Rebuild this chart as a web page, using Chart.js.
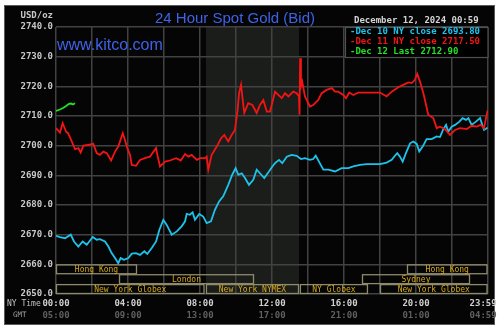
<!DOCTYPE html>
<html><head><meta charset="utf-8">
<script src="https://cdn.jsdelivr.net/npm/chart.js@4/dist/chart.umd.min.js"></script>
<style>html,body{margin:0;padding:0;background:#fff;}canvas{display:block}</style>
</head><body>
<canvas id="c" width="500" height="329"></canvas>
<script>
// ---- data (hours since 00:00 NY time, USD/oz) ----
const redHours = [0,0.22,0.37,0.56,0.67,0.82,1.06,1.24,1.37,1.52,1.79,2.07,2.26,2.44,2.63,2.82,3.06,3.28,3.46,3.71,3.83,3.96,4.11,4.21,4.44,4.67,4.94,5.22,5.56,5.63,5.78,6.06,6.33,6.67,6.93,7.17,7.35,7.54,7.82,8.0,8.28,8.37,8.46,8.65,8.93,9.17,9.35,9.57,9.76,9.94,10.09,10.17,10.28,10.35,10.46,10.68,10.91,11.15,11.33,11.52,11.71,11.89,12.17,12.35,12.54,12.72,12.91,13.18,13.37,13.5,13.53,13.56,13.61,13.68,13.83,14.11,14.29,14.57,14.76,15.04,15.32,15.5,15.68,15.96,16.11,16.29,16.52,16.79,17.26,18.0,18.37,18.65,19.02,19.29,19.57,19.76,19.94,20.07,20.22,20.41,20.56,20.68,20.96,21.15,21.33,21.61,21.89,22.17,22.44,22.82,23.09,23.37,23.59,23.78,23.89,23.98];
const redValues = [2705.9,2704.4,2707.6,2704.7,2704.2,2702.2,2698.8,2699.2,2697.7,2700.0,2700.3,2700.6,2697.5,2696.9,2698.0,2697.5,2695.0,2698.0,2699.7,2704.2,2701.9,2699.2,2696.9,2693.5,2693.2,2695.2,2695.8,2696.3,2699.2,2696.9,2693.0,2694.6,2695.0,2695.8,2695.0,2697.2,2696.3,2696.9,2695.2,2695.8,2695.8,2696.3,2691.9,2696.9,2699.7,2702.5,2703.6,2701.4,2703.6,2705.3,2712.0,2717.7,2720.5,2716.6,2711.0,2714.3,2713.7,2711.0,2713.7,2715.4,2711.5,2711.5,2718.2,2717.1,2716.0,2717.7,2716.6,2718.2,2717.7,2716.6,2710.4,2729.5,2720.0,2721.6,2716.6,2713.2,2713.7,2715.4,2717.7,2718.8,2719.4,2718.2,2718.2,2717.1,2716.0,2717.9,2717.1,2717.9,2717.9,2717.9,2716.6,2718.2,2719.7,2720.5,2721.3,2721.1,2722.2,2724.2,2721.6,2717.7,2713.7,2710.4,2709.3,2705.9,2706.4,2705.6,2703.6,2705.3,2705.9,2705.6,2706.7,2706.4,2707.0,2705.9,2709.3,2711.9];

const cyanHours = [0,0.22,0.5,0.82,1.0,1.24,1.48,1.71,2.04,2.26,2.44,2.72,2.91,3.09,3.28,3.46,3.59,3.78,4.02,4.21,4.44,4.67,4.91,5.07,5.32,5.56,5.74,5.96,6.15,6.43,6.71,6.98,7.17,7.26,7.44,7.59,7.72,7.96,8.18,8.37,8.61,8.83,9.06,9.29,9.57,9.79,9.98,10.13,10.32,10.5,10.72,10.96,11.15,11.33,11.57,11.83,12.02,12.17,12.39,12.57,12.82,13.09,13.37,13.61,13.83,14.11,14.29,14.43,14.61,14.85,15.13,15.5,15.87,16.24,16.52,16.89,17.26,18.0,18.37,18.65,18.83,18.96,19.11,19.26,19.44,19.67,19.85,20.04,20.18,20.37,20.59,20.87,21.15,21.33,21.52,21.67,21.79,21.98,22.17,22.41,22.59,22.78,22.91,23.09,23.33,23.56,23.65,23.78,23.93,23.98];
const cyanValues = [2669.6,2669.2,2668.8,2670.0,2667.7,2666.0,2667.7,2666.6,2669.2,2668.3,2668.5,2667.7,2666.0,2663.8,2662.1,2660.4,2662.1,2661.5,2662.1,2663.6,2663.8,2663.2,2664.4,2663.5,2665.5,2667.7,2671.6,2675.0,2673.3,2670.0,2671.1,2672.8,2674.5,2677.0,2676.7,2677.5,2675.0,2677.0,2676.1,2673.9,2674.5,2678.4,2681.2,2682.9,2686.8,2690.2,2692.4,2690.2,2690.7,2689.1,2686.8,2688.5,2691.9,2690.7,2689.1,2691.3,2693.0,2694.1,2695.2,2694.1,2696.3,2696.9,2696.6,2695.5,2695.8,2695.2,2695.5,2696.6,2694.6,2691.9,2691.9,2691.3,2692.4,2692.4,2693.0,2693.5,2693.8,2693.8,2694.3,2695.2,2696.6,2697.5,2696.3,2694.6,2697.5,2700.8,2701.4,2700.6,2698.0,2699.7,2702.2,2702.2,2703.1,2702.9,2705.6,2707.0,2704.7,2706.4,2707.0,2708.1,2709.3,2708.7,2709.3,2707.0,2708.1,2709.3,2707.6,2705.3,2705.9,2705.9];

const greenHours = [0,0.22,0.39,0.56,0.72,0.83,0.94,1.06];
const greenValues = [2711.7,2712.2,2712.7,2713.4,2714.1,2714.2,2713.9,2714.3];

const seriesNames = ['-Dec 10 NY close 2693.80','-Dec 11 NY close 2717.50','-Dec 12 Last 2712.90'];

const nyTimeLabels = ['00:00','04:00','08:00','12:00','16:00','20:00','23:59'];
const gmtLabels    = ['05:00','09:00','13:00','17:00','21:00','01:00','04:59'];
const labelHours   = [0,4,8,12,16,20,23.983];

const sessionNames = ['Hong Kong','London','New York Globex','New York NYMEX','NY Globex','Sydney','New York Globex','Hong Kong'];
const sessionStart = [0,3.5,0,8.33,13.55,17,18,19.5];
const sessionEnd   = [4.5,11,8.25,13.5,17.33,23,24,24];
const sessionRow   = [0,1,2,2,2,1,2,0];

const nymexStart = 8.33, nymexEnd = 13.5;

const titleText = '24 Hour Spot Gold (Bid)';
const siteText = 'www.kitco.com';
const dateText = 'December 12, 2024 00:59';
const unitText = 'USD/oz';

const CYAN = '#1ec3ec', RED = '#f41414', GREEN = '#24e024';
const MONO = '"DejaVu Sans Mono", "Liberation Mono", monospace';

const pts = (h, v) => h.map((x, i) => ({x, y: v[i]}));

const decor = {
  id: 'decor',
  beforeDraw(chart) {
    const {ctx, chartArea: a, scales: {x}} = chart;
    ctx.save();
    ctx.fillStyle = '#ffffff'; ctx.fillRect(0, 0, 500, 329);
    ctx.fillStyle = '#050505'; ctx.fillRect(4, 5, 491, 320);
    ctx.strokeStyle = '#5a5a5a'; ctx.lineWidth = 1; ctx.strokeRect(4.5, 5.5, 490, 319);
    const x0 = x.getPixelForValue(nymexStart), x1 = x.getPixelForValue(nymexEnd);
    ctx.fillStyle = '#1b1d1b';
    ctx.fillRect(x0, a.top, x1 - x0, a.bottom - a.top);
    ctx.restore();
  },
  afterDatasetsDraw(chart) {
    const {ctx, chartArea: a, scales: {x, y}} = chart;
    ctx.save();
    // session bars
    ctx.font = '8px ' + MONO;
    ctx.textAlign = 'center'; ctx.textBaseline = 'middle';
    for (let i = 0; i < sessionNames.length; i++) {
      const r = sessionRow[i];
      const top = y.getPixelForValue(2660 - r * 10 / 3);
      const bot = y.getPixelForValue(2660 - (r + 1) * 10 / 3);
      const xs = x.getPixelForValue(sessionStart[i]);
      const xe = Math.min(x.getPixelForValue(sessionEnd[i]), a.right - 0.5);
      ctx.strokeStyle = '#8e8a6c'; ctx.lineWidth = 1.3;
      ctx.strokeRect(xs + 0.5, top + 0.5, xe - xs - 1, bot - top - 1);
      ctx.fillStyle = '#d6a91c';
      ctx.fillText(sessionNames[i], (xs + xe) / 2, (top + bot) / 2 + 0.5);
    }
    // legend box
    ctx.fillStyle = '#000';
    ctx.fillRect(345, a.top, a.right - 345, 30);
    ctx.strokeStyle = '#505050'; ctx.lineWidth = 1.2;
    ctx.strokeRect(345.5, a.top + 0.5, a.right - 345.5, 30);
    ctx.font = 'bold 9px ' + MONO;
    ctx.textAlign = 'left'; ctx.textBaseline = 'middle';
    const cols = [CYAN, RED, GREEN];
    for (let i = 0; i < 3; i++) {
      ctx.fillStyle = cols[i];
      ctx.fillText(seriesNames[i], 350, a.top + 5 + i * 10);
    }
    // header texts
    ctx.fillStyle = '#d4d4d4';
    ctx.fillText(dateText, 354, 21);
    ctx.textAlign = 'right';
    ctx.fillStyle = '#c8c8c8';
    ctx.fillText(unitText, 53, 15.5);
    ctx.fillStyle = '#3f62e8';
    ctx.textAlign = 'center'; ctx.textBaseline = 'alphabetic';
    ctx.font = '15px "Liberation Sans", Arial, sans-serif';
    ctx.fillText(titleText, 235, 23);
    ctx.textAlign = 'left';
    ctx.font = '16px "Liberation Sans", Arial, sans-serif';
    ctx.fillText(siteText, 57, 49.5);
    // x labels
    ctx.textBaseline = 'middle';
    ctx.font = '8px ' + MONO;
    ctx.fillStyle = '#c4c4c4';
    ctx.fillText('NY Time', 7, 304);
    ctx.fillStyle = '#a0a0a0';
    ctx.font = '7.5px ' + MONO;
    ctx.fillText('GMT', 13, 315.5);
    ctx.font = 'bold 9px ' + MONO;
    for (let i = 0; i < labelHours.length; i++) {
      let px = x.getPixelForValue(labelHours[i]);
      const last = i === labelHours.length - 1;
      ctx.textAlign = last ? 'right' : 'center';
      if (last) px += 9;
      ctx.fillStyle = '#d0d0d0';
      ctx.fillText(nyTimeLabels[i], px, 304);
      ctx.fillStyle = '#606060';
      ctx.fillText(gmtLabels[i], px, 315.5);
    }
    ctx.restore();
  }
};

new Chart(document.getElementById('c'), {
  type: 'line',
  data: {
    datasets: [
      {data: pts(greenHours, greenValues), borderColor: GREEN, borderWidth: 1.8, pointRadius: 0, tension: 0},
      {data: pts(redHours, redValues), borderColor: RED, borderWidth: 1.8, pointRadius: 0, tension: 0},
      {data: pts(cyanHours, cyanValues), borderColor: CYAN, borderWidth: 1.8, pointRadius: 0, tension: 0}
    ]
  },
  options: {
    responsive: false, animation: false, devicePixelRatio: 1,
    layout: {padding: {left: 0, right: 12, top: 27, bottom: 35}},
    plugins: {legend: {display: false}, tooltip: {enabled: false}, title: {display: false}},
    scales: {
      x: {
        type: 'linear', min: 0, max: 24,
        ticks: {display: false, stepSize: 2},
        grid: {color: '#424242', lineWidth: 1.5, drawTicks: false},
        border: {display: false},
        afterFit(s) { s.height = 0; }
      },
      y: {
        min: 2650, max: 2740,
        ticks: {stepSize: 10, color: '#c8c8c8', padding: 3,
          font: {family: 'DejaVu Sans Mono', size: 9, weight: 'bold'},
          callback: v => v.toFixed(1)},
        grid: {color: '#424242', lineWidth: 1.5, drawTicks: false},
        border: {display: false},
        afterFit(s) { s.width = 56; }
      }
    }
  },
  plugins: [decor]
});
</script>
</body></html>
